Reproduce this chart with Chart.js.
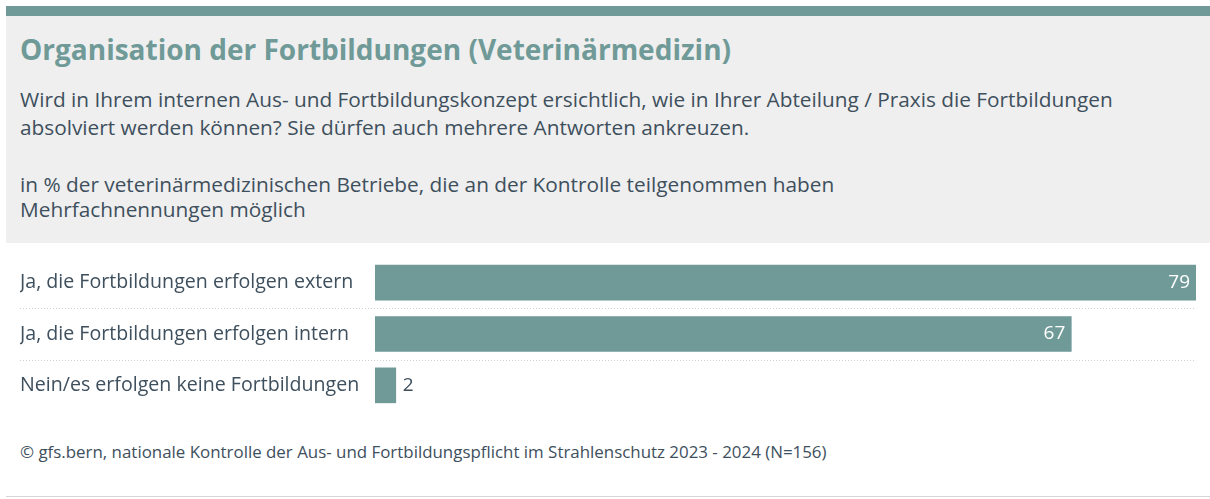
<!DOCTYPE html>
<html>
<head>
<meta charset="utf-8">
<script src="https://cdn.jsdelivr.net/npm/chart.js@4.4.1/dist/chart.umd.min.js"></script>
<style>
  html, body { margin:0; padding:0; background:#fff; width:1210px; height:499px; overflow:hidden; }
  body { position:relative; font-family:"Open Sans", sans-serif; color:#3e4f5d; }
  #topbar { position:absolute; left:6px; top:6px; width:1204px; height:10px; background:#6f9a98; }
  #header { position:absolute; left:6px; top:16px; width:1204px; height:227px; background:#efefef; }
  .t { position:absolute; left:20px; white-space:nowrap; }
  #title { top:32px; font-size:28px; font-weight:700; color:#6f9a98; line-height:34px; }
  #sub1 { top:85px; font-size:20.8px; line-height:28px; }
  #sub2 { top:172px; font-size:20.8px; line-height:25px; }
  #footer { top:441px; font-size:16.9px; line-height:22px; }
  #bottomline { position:absolute; left:6px; top:496px; width:1204px; height:1px; background:#d6d6d6; }
  #wrap { position:absolute; left:0; top:250px; width:1210px; height:170px; }
</style>
</head>
<body>
<div id="topbar"></div>
<div id="header"></div>
<div class="t" id="title">Organisation der Fortbildungen (Veterinärmedizin)</div>
<div class="t" id="sub1">Wird in Ihrem internen Aus- und Fortbildungskonzept ersichtlich, wie in Ihrer Abteilung / Praxis die Fortbildungen<br>absolviert werden können? Sie dürfen auch mehrere Antworten ankreuzen.</div>
<div class="t" id="sub2">in % der veterinärmedizinischen Betriebe, die an der Kontrolle teilgenommen haben<br>Mehrfachnennungen möglich</div>
<div id="wrap"><canvas id="c"></canvas></div>
<div class="t" id="footer">© gfs.bern, nationale Kontrolle der Aus- und Fortbildungspflicht im Strahlenschutz 2023 - 2024 (N=156)</div>
<div id="bottomline"></div>
<script>
const categories = [
  "Ja, die Fortbildungen erfolgen extern",
  "Ja, die Fortbildungen erfolgen intern",
  "Nein/es erfolgen keine Fortbildungen"
];
const values = [79, 67, 2];

const TEAL = "#6f9a98";
const TEXT = "#3e4f5d";
const FONT = '"Open Sans", sans-serif';

const separators = {
  id: "separators",
  beforeDatasetsDraw(chart) {
    const y = chart.scales.y, ctx = chart.ctx, area = chart.chartArea;
    ctx.save();
    ctx.strokeStyle = "#cfcfcf";
    ctx.lineWidth = 1;
    ctx.setLineDash([1, 2]);
    for (let i = 0; i < categories.length - 1; i++) {
      const py = Math.round((y.getPixelForValue(i) + y.getPixelForValue(i + 1)) / 2) + 0.5;
      ctx.beginPath();
      ctx.moveTo(20, py);
      ctx.lineTo(area.right, py);
      ctx.stroke();
    }
    ctx.restore();
  }
};

const valueLabels = {
  id: "valueLabels",
  afterDatasetsDraw(chart) {
    const ctx = chart.ctx;
    const meta = chart.getDatasetMeta(0);
    ctx.save();
    ctx.font = "19px " + FONT;
    ctx.textBaseline = "middle";
    meta.data.forEach((bar, i) => {
      const v = values[i];
      const w = bar.x - bar.base;
      if (w > 60) {
        ctx.fillStyle = "#ffffff";
        ctx.textAlign = "right";
        ctx.fillText(String(v), bar.x - 6, bar.y);
      } else {
        ctx.fillStyle = TEXT;
        ctx.textAlign = "left";
        ctx.fillText(String(v), bar.x + 7, bar.y);
      }
    });
    ctx.restore();
  }
};

new Chart(document.getElementById("c"), {
  type: "bar",
  data: {
    labels: categories,
    datasets: [{
      data: values,
      backgroundColor: TEAL,
      borderWidth: 0,
      barThickness: 35
    }]
  },
  options: {
    indexAxis: "y",
    responsive: true,
    maintainAspectRatio: false,
    animation: false,
    layout: { padding: { left: 20, right: 14, top: 7, bottom: 9 } },
    plugins: { legend: { display: false }, tooltip: { enabled: false } },
    scales: {
      x: { display: false, min: 0, max: 79 },
      y: {
        grid: { display: false },
        border: { display: false },
        ticks: {
          crossAlign: "far",
          color: TEXT,
          font: { family: FONT, size: 19.6 },
          padding: 0
        },
        afterFit(axis) {
          axis.width = 355;
          axis.paddingTop = 0;
          axis.paddingBottom = 0;
        }
      }
    }
  },
  plugins: [separators, valueLabels]
});
</script>
</body>
</html>
